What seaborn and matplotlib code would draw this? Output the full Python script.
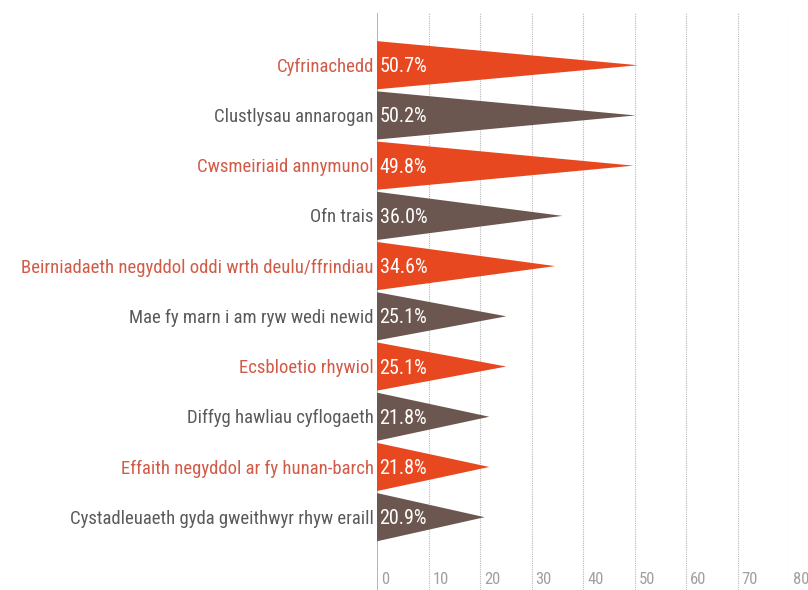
import matplotlib
matplotlib.use('Agg')
import matplotlib.pyplot as plt
import seaborn as sns

# данные
labels = ['Cyfrinachedd', 'Clustlysau annarogan', 'Cwsmeiriaid annymunol', 'Ofn trais',
          'Beirniadaeth negyddol oddi wrth deulu/ffrindiau', 'Mae fy marn i am ryw wedi newid',
          'Ecsbloetio rhywiol', 'Diffyg hawliau cyflogaeth', 'Effaith negyddol ar fy hunan-barch',
          'Cystadleuaeth gyda gweithwyr rhyw eraill']
values = [50.7, 50.2, 49.8, 36.0, 34.6, 25.1, 25.1, 21.8, 21.8, 20.9]
ticks = [0, 10, 20, 30, 40, 50, 60, 70, 80]

red = '#E8481F'
brown = '#6B5750'
red_text = '#D25B48'
grey_text = '#5A5A5A'

sns.set_theme(style='white')
plt.rcParams['font.family'] = ['Roboto Condensed', 'DejaVu Sans']
plt.rcParams['font.stretch'] = 'condensed'

fig = plt.figure(figsize=(8.08, 5.9), dpi=100)
ax = fig.add_axes([377 / 808, 0, 412 / 808, 577 / 590])

half = 0.48
for i, (lab, v) in enumerate(zip(labels, values)):
    col = red if i % 2 == 0 else brown
    ax.fill([0, v, 0], [i - half, i, i + half], color=col, lw=0, zorder=3)
    ax.text(0.5, i + 0.03, f'{v:.1f}%', color='white', fontsize=14.5, va='center', ha='left', zorder=4)
    ax.text(-0.6, i + 0.03, lab, color=red_text if i % 2 == 0 else grey_text,
            fontsize=13.5, va='center', ha='right')

# сетка
for t in ticks:
    if t == 0:
        ax.axvline(t, color='#A8A8A8', lw=1.2, zorder=1)
    else:
        ax.axvline(t, color='#B8B8B8', lw=0.8, ls=(0, (1, 1)), zorder=1)
    ax.text(t + 0.8, 10.25, str(t), color='#A0A0A0', fontsize=12, va='center', ha='left')

ax.set_xlim(0, 80)
ax.set_ylim(10.45, -1.04)
ax.axis('off')

plt.savefig('out.png', dpi=100)
